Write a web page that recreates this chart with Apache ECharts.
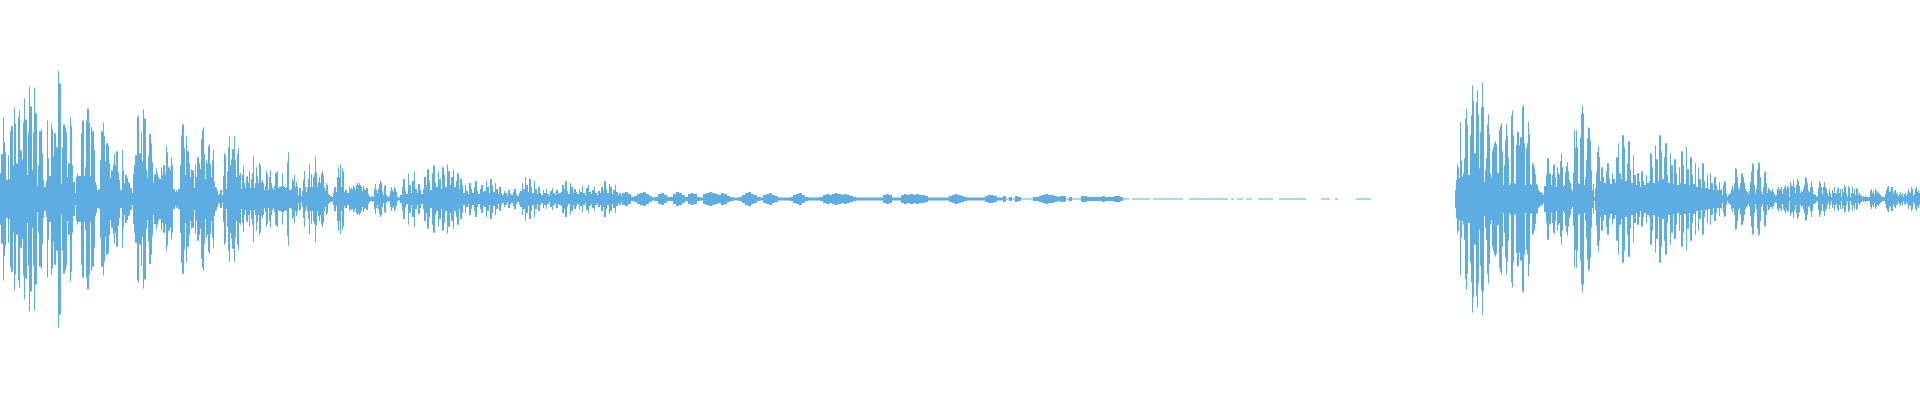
<!DOCTYPE html>
<html>
<head>
<meta charset="utf-8">
<script src="https://cdn.jsdelivr.net/npm/echarts@6/dist/echarts.min.js"></script>
<style>
html,body{margin:0;padding:0;background:#ffffff;}
#chart{width:1920px;height:400px;}
</style>
</head>
<body>
<div id="chart"></div>
<script>
// Waveform peak amplitude per time slice, stored per time segment.
// Time runs 0..1920 (sample units); each segment's readings are spread evenly over its span.
const segStart = [0, 200, 400, 622, 1003, 1204, 1455, 1600, 1720];
const segEnd   = [200, 400, 622, 1003, 1204, 1455, 1600, 1720, 1920];

const ampA = [26,45,82,57,47,19,44,20,68,73,34,92,76,36,82,89,49,40,77,101,80,24,67,113,93,29,67,112,86,13,34,68,70,46,19,12,18,79,41,23,76,70,43,66,52,52,129,116,15,52,75,72,67,22,36,83,73,34,17,6,22,26,23,23,66,79,23,32,79,91,76,23,72,68,49,17,14,9,10,39,68,77,63,38,56,54,36,21,29,35,45,34,48,27,19,9,49,29,16,24,21,17,16,11,6,25,34,44,82,84,46,67,38,90,81,30,21,43,65,56,37,16,25,31,26,22,20,32,24,34,25,53,47,32,29,41,34,10,7,9,7,10,34,64,75,51,24,63,48,36,22,30,29,11,35,22,42,36];
const ampB = [30,60,69,72,45,20,39,36,53,55,35,22,39,49,17,12,11,8,4,5,9,9,4,23,46,44,10,28,52,63,34,40,50,63,39,22,46,51,24,26,10,24,33,16,11,22,23,16,28,11,20,26,43,11,16,32,23,16,36,34,17,19,16,9,13,28,25,9,22,29,16,11,9,13,26,27,28,11,12,12,13,26,13,12,11,12,37,47,9,9,10,20,18,24,12,17,12,4,11,3,8,19,28,12,7,12,20,35,12,25,12,22,25,43,27,12,17,22,16,26,28,24,12,8,16,14,5,4,3,3,2,6,12,12,7,22,32,22,35,12,31,28,7,9,9,6,6,12,10,11,10,13,12,9,14,16,14,16,14,12,8,13,10,9,11,5,3,2,2,3,2,10,15,9,6,10,15,18,16,8,4,13,14,4,2,3,2,8,12,9,7,12,10,7,2,2,1];
const ampC1 = [4,12,20,8,5,26,14,6,18,28,10,6,15,9,5,
  10,22,14,30,18,9,26,34,16,12,28,20,10,32,24,12,35,28,14,22,30,12,18,26,10,20,14,
  6,14,8,5,16,10,6,12,18,8,5,10,14,7,
  8,18,12,6,20,14,7,16,10,5,12,6,
  4,8,6,3,9,5,4,7,10,5,3,6,
  8,16,10,22,14,7,20,12,6,18,10,5,12,6,
  4,9,6,10,5,3,8,11,6,4,9,5,6,
  7,14,10,18,8,5,16,12,6,10,7,
  5,10,7,13,6,4,11,14,7,5,9,12,6,4,8,
  6,12,8,18,10,6,15,12,5,9,14,7,4,6,3];
const ampC2 = [6,7,5,2,3,5,
  6,7,5,3,1.5,2,5,6,4,2,
  2,5,7,6,4,2,
  5,6,5,2,1.5,5,6,7,6,5,4,6,5,3,2,1.5,
  1.5,2,4,6,7,5,4,2,1.5,4,5,6,4,3,1.5,1.5,
  1.5,1.5,2,4,5,6,4,2,1.5,1.5,1.5,1.5,2,4,5,4,5,6,5,4,5,4,3,2,1.5,
  1.5,1.5,1.5,1.5,1.5,1.5,1.5,1.5,4,5,4,1.5,1.5,1.5,4,5,4,5,4,5,4,4,3,1.5,
  1.5,1.5,1.5,1.5,1.5,1.5,3,4,5,4,3,2,1.5,1.5,1.5,1.5,1.5,1.5,3,4,4,3,1.5,1.5];
const ampD = [3,0.5,2,0.5,3,2,0.5,0.5,0.5,0.5,2,2,3,4,5,4,4,3,2,3,3,0.5,2,0.5,0.5,0.5,3,3,2,2,2,2,2,3,2,2,2,3,3,2,0.5,0.5,0,0.5,0.5,0.5,0.5,0.5,0.5,0,0.5,0.5,0.5,0.5,0.5,0.5,0.5,0.5,0.5,0.5,0,0,0.5,0.5,0.5,0.5,0.5];
const ampE = [0.5,0.5,0.5,0.5,0.5,0.5,0.5,
  0.5,0,0.5,0,
  0.5,0.5,0,0.5,0.5,0,0,0.5,
  0.5,0.5,0.5,0.5,
  0,0,
  0.5,0.5,0.5,0.5,0.5,0.5,0.5,0.5,0.5,
  0,0,0,0,0,
  0.5,0.5,0.5,0,0,0.5,0,
  0,0,0,0,0,
  0.5,0.5,0.5,0.5,0.5,0,
  0,0,0,0,0,0,0,0,0,0,0,0,0,0,0,0,0,0,0,0,0,0,0,0,0,0,0];
const ampF = [9,19,35,32,21,77,39,22,26,41,81,91,75,24,24,64,84,114,99,46,46,97,109,85,31,67,92,117,93,17,29,41,75,85,65,26,21,48,52,56,58,55,27,26,69,73,76,48,14,34,59,76,63,42,14,16,84,89,64,16,15,54,68,67,54,62,62,93,94,56,14,51,56,78,65,15,14,36,35,32,25,15,14,9,8,7,6,6,4,13,13,24,41,41,26,25,14,24,34,35,22,12,32,26,24,38,46,32,12,14,27,33,37,28,19,16,10,8,27,69,51,69,52,16,15,62,86,94,86,14,22,39,61,72,71,59,29,9,15,2,11,27,47,53,42];
const ampG = [18,32,22,16,28,36,20,15,26,20,
  16,42,56,26,20,64,52,18,36,58,30,16,44,24,
  14,26,18,12,28,18,14,24,16,
  18,46,32,16,54,40,18,64,48,20,42,56,24,
  16,46,34,15,40,26,14,32,
  16,48,34,15,52,30,14,42,24,15,36,
  12,32,20,11,36,18,11,24,
  10,26,16,9,22,14,9,17];
const ampH = [9,10,4,14,18,17,6,2,4,5,6,10,13,9,16,31,30,22,11,9,16,26,26,22,16,10,8,7,5,8,17,28,36,35,14,5,10,30,37,36,22,8,5,12,27,28,16,6,11,10,8,8,10,7,5,3,4,10,12,9,10,12,5,10,12,14,10,13,12,2,17,14,13,19,12,6,14,20,18,13,6,8,7,10,14,22,21,16,8,7,12,18,12,5,5,4,2,3,11,18,16,12,5,12,17,12,10,6,3,10,6,2,9,6,12,6,5,10,12,6,10,2,10,7,14,12,6,2,13,11,2,6,12,6,10,4,11,10,4,6,4,3,2,3,2,3,2,2,2,2,8,10,6,8,4,10,8,6,7,5,4,3,2,2,2,5,9,12,13,7,8,12,12,5,8,9,6,5,3,5,7,4,6,2,5,6,3,5,10,7,6,12,10,3,5,10,12,7,9,6];

const segValues = [ampA, ampB, ampC1, ampC2, ampD, ampE, ampF, ampG, ampH];
const waveColor = '#5dade2';

// Build [tStart, tEnd, amplitude] records from the segment arrays
const data = [];
segValues.forEach((vals, s) => {
  const step = (segEnd[s] - segStart[s]) / vals.length;
  vals.forEach((v, i) => {
    data.push([segStart[s] + i * step, segStart[s] + (i + 1) * step, v]);
  });
});

function renderItem(params, api) {
  const a = api.value(2);
  if (!a) return {type: 'group', children: []};
  const top = api.coord([api.value(0), a]);
  const bottom = api.coord([api.value(1), -a]);
  const x0 = Math.round(top[0]);
  const x1 = Math.max(x0 + 1, Math.round(bottom[0]));
  return {
    type: 'rect',
    shape: {x: x0, y: top[1], width: x1 - x0, height: bottom[1] - top[1]},
    style: {fill: waveColor}
  };
}

const chart = echarts.init(document.getElementById('chart'), null, {renderer: 'canvas'});
chart.setOption({
  animation: false,
  backgroundColor: '#ffffff',
  grid: {left: 0, right: 0, top: 0, bottom: 2},
  xAxis: {type: 'value', min: 0, max: 1920, show: false},
  yAxis: {type: 'value', min: -200, max: 200, show: false},
  series: [{
    type: 'custom',
    renderItem: renderItem,
    encode: {x: [0, 1], y: 2},
    data: data,
    silent: true
  }]
});
</script>
</body>
</html>
